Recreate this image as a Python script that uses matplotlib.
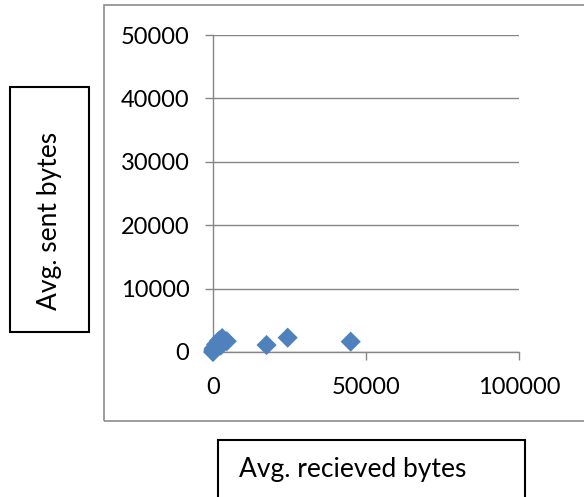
import matplotlib.pyplot as plt
from matplotlib.patches import Rectangle

plt.rcParams['font.family'] = ['Lato', 'DejaVu Sans']

# 数据
recv_bytes = [0, 100, 200, 500, 1000, 2500, 2000, 3000, 4500, 17500, 24400, 45000]
sent_bytes = [0, 300, 500, 700, 1200, 1000, 1800, 2200, 1700, 1100, 2260, 1630]

x_ticks = [0, 50000, 100000]
y_ticks = [0, 10000, 20000, 30000, 40000, 50000]

fig = plt.figure(figsize=(5.84, 4.97), dpi=100)
ax = fig.add_axes([213 / 584, 1 - 352 / 497, 306 / 584, 317 / 497])

ax.scatter(recv_bytes, sent_bytes, marker='D', s=105, color='#4F81BD',
           edgecolors='none', zorder=3, clip_on=False)

ax.set_xlim(0, 100000)
ax.set_ylim(0, 50000)
ax.set_xticks(x_ticks)
ax.set_yticks(y_ticks)
ax.set_xticklabels([str(v) for v in x_ticks])
ax.set_yticklabels([str(v) for v in y_ticks])

gray = '#868686'
ax.grid(axis='y', color=gray, lw=1.0)
ax.set_axisbelow(True)
for side in ['top', 'right']:
    ax.spines[side].set_visible(False)
for side in ['left', 'bottom']:
    ax.spines[side].set_color(gray)
    ax.spines[side].set_linewidth(1.0)
ax.tick_params(axis='both', colors=gray, length=6, width=1.0, direction='out',
               labelcolor='black', labelsize=17)
ax.tick_params(axis='y', pad=11)
ax.tick_params(axis='x', pad=12)

# 外框
fig.patches.append(Rectangle((104 / 584, 1 - 421 / 497), 1.0, 416 / 497,
                             transform=fig.transFigure, fill=False,
                             edgecolor='#8c8c8c', lw=1.2, clip_on=False))

# 坐标轴标题框
fig.patches.append(Rectangle((10 / 584, 1 - 332 / 497), 79 / 584, 245 / 497,
                             transform=fig.transFigure, fill=False,
                             edgecolor='black', lw=1.5))
fig.text(50 / 584, 1 - 310 / 497, 'Avg. sent bytes', rotation=90,
         ha='center', va='bottom', fontsize=19)

fig.patches.append(Rectangle((218 / 584, 1 - 520 / 497), 307 / 584, 80 / 497,
                             transform=fig.transFigure, fill=False,
                             edgecolor='black', lw=1.5, clip_on=False))
fig.text(239 / 584, 1 - 470 / 497, 'Avg. recieved bytes',
         ha='left', va='center', fontsize=19)

fig.savefig('out.png', dpi=100)
